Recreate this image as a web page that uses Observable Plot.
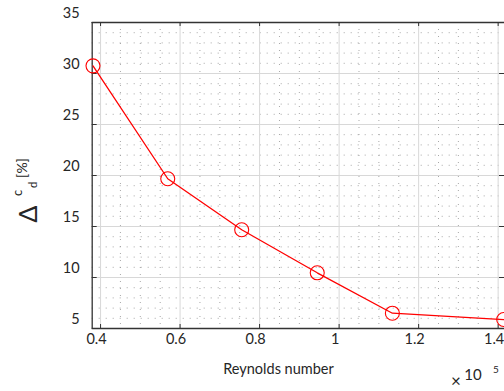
<!DOCTYPE html>
<html>
<head>
<meta charset="utf-8">
<script src="https://cdn.jsdelivr.net/npm/d3@7"></script>
<script src="https://cdn.jsdelivr.net/npm/@observablehq/plot@0.6"></script>
<style>
  html, body { margin: 0; padding: 0; background: #fff; }
  svg { display: block; }
</style>
</head>
<body>
<div id="chart"></div>
<script>
// Data (Reynolds number in units of 1e5, drag change in %)
const reynolds = [0.381, 0.569, 0.755, 0.945, 1.134, 1.414];
const deltaCd  = [30.75, 19.68, 14.68, 10.46, 6.5, 5.88];

// Tick values and labels
const xTicks = [0.4, 0.6, 0.8, 1.0, 1.2, 1.4];
const xTickLabels = ["0.4", "0.6", "0.8", "1", "1.2", "1.4"];
const yTicks = [5, 10, 15, 20, 25, 30, 35];
const yTickLabels = ["5", "10", "15", "20", "25", "30", "35"];

const xLabel = "Reynolds number";
const xExponent = "5";

const data = reynolds.map((r, i) => ({ r, d: deltaCd[i] }));
const xMinor = d3.range(0.4, 1.4001, 0.05).filter(v => !xTicks.some(t => Math.abs(t - v) < 1e-6));
const yMinor = d3.range(5, 35.001, 1).filter(v => v % 5 !== 0);

const W = 504, H = 391;
const mLeft = 91.7, mTop = 22, mBottom = 328, rightEdge = 506;
const ink = "#262626";

const chart = Plot.plot({
  width: W,
  height: H,
  marginLeft: mLeft,
  marginRight: 0,
  marginTop: mTop,
  marginBottom: H - mBottom,
  style: { fontFamily: "Lato, 'Open Sans', sans-serif", fontSize: "14.5px", color: ink, background: "#fff" },
  x: { domain: [0.379, 1.421], range: [mLeft, rightEdge] },
  y: { domain: [5, 35], range: [mBottom, mTop] },
  marks: [
    // minor dotted grid
    Plot.ruleX(xMinor, { stroke: "#999", strokeWidth: 1, strokeDasharray: "1,6", strokeOpacity: 0.85 }),
    Plot.ruleY(yMinor, { stroke: "#999", strokeWidth: 1, strokeDasharray: "1,6", strokeOpacity: 0.85 }),
    // major grid
    Plot.ruleX(xTicks, { stroke: "#d8d8d8", strokeWidth: 1 }),
    Plot.ruleY(yTicks, { stroke: "#d8d8d8", strokeWidth: 1 }),
    // box lines
    Plot.ruleY([5], { stroke: "#333", strokeWidth: 1.3 }),
    Plot.ruleY([35], { stroke: "#333", strokeWidth: 1.3 }),
    Plot.ruleX([0.379], { stroke: "#333", strokeWidth: 1.3 }),
    // inward tick marks
    Plot.tickX(xTicks, { stroke: "#333", strokeWidth: 1, insetTop: (mBottom - mTop) - 4 }),
    Plot.tickX(xTicks, { stroke: "#333", strokeWidth: 1, insetBottom: (mBottom - mTop) - 4 }),
    Plot.tickY(yTicks, { stroke: "#333", strokeWidth: 1, insetRight: (W - mLeft) - 5 }),
    Plot.tickY(yTicks, { stroke: "#333", strokeWidth: 1, insetLeft: (W - mLeft) - 5 }),
    // axes labels
    Plot.axisX(xTicks, { tickSize: 0, tickPadding: 5, dx: -4, tickFormat: (d, i) => xTickLabels[i], label: null, fill: ink, fontSize: 14.5 }),
    Plot.axisY(yTicks, { tickSize: 0, tickPadding: 12.5, dy: -9, tickFormat: (d, i) => yTickLabels[i], label: null, fill: ink, fontSize: 14.5 }),
    // data
    Plot.line(data, { x: "r", y: "d", stroke: "#ff0000", strokeWidth: 1.3 }),
    Plot.dot(data, { x: "r", y: "d", r: 7, stroke: "#ff0000", strokeWidth: 1.1, fill: "none" })
  ]
});

document.getElementById("chart").appendChild(chart);

// Axis titles and exponent, drawn as real text
const svg = d3.select(chart);
const font = "Lato, 'Open Sans', sans-serif";

svg.append("text")
  .attr("x", 278.5).attr("y", 374)
  .attr("text-anchor", "middle")
  .attr("font-family", font).attr("font-size", 14.5).attr("fill", ink)
  .text(xLabel);

const yl = svg.append("g")
  .attr("transform", "translate(37,214) rotate(-90)")
  .attr("font-family", font).attr("fill", ink);
yl.append("text").attr("x", 0).attr("y", 0).attr("font-size", 25).text("Δ");
yl.append("text").attr("x", 21).attr("y", -15).attr("font-size", 13).text("c");
yl.append("text").attr("x", 29).attr("y", 0).attr("font-size", 11).text("d");
yl.append("text").attr("x", 46).attr("y", -10).attr("font-size", 14).text("[%]");

svg.append("text").attr("x", 456).attr("y", 387).attr("font-family", font)
  .attr("font-size", 17).attr("fill", ink).text("×");
svg.append("text").attr("x", 473).attr("y", 380).attr("font-family", font)
  .attr("font-size", 15).attr("fill", ink).text("10");
svg.append("text").attr("x", 496).attr("y", 373).attr("font-family", font)
  .attr("font-size", 10).attr("fill", ink).text(xExponent);
</script>
</body>
</html>
